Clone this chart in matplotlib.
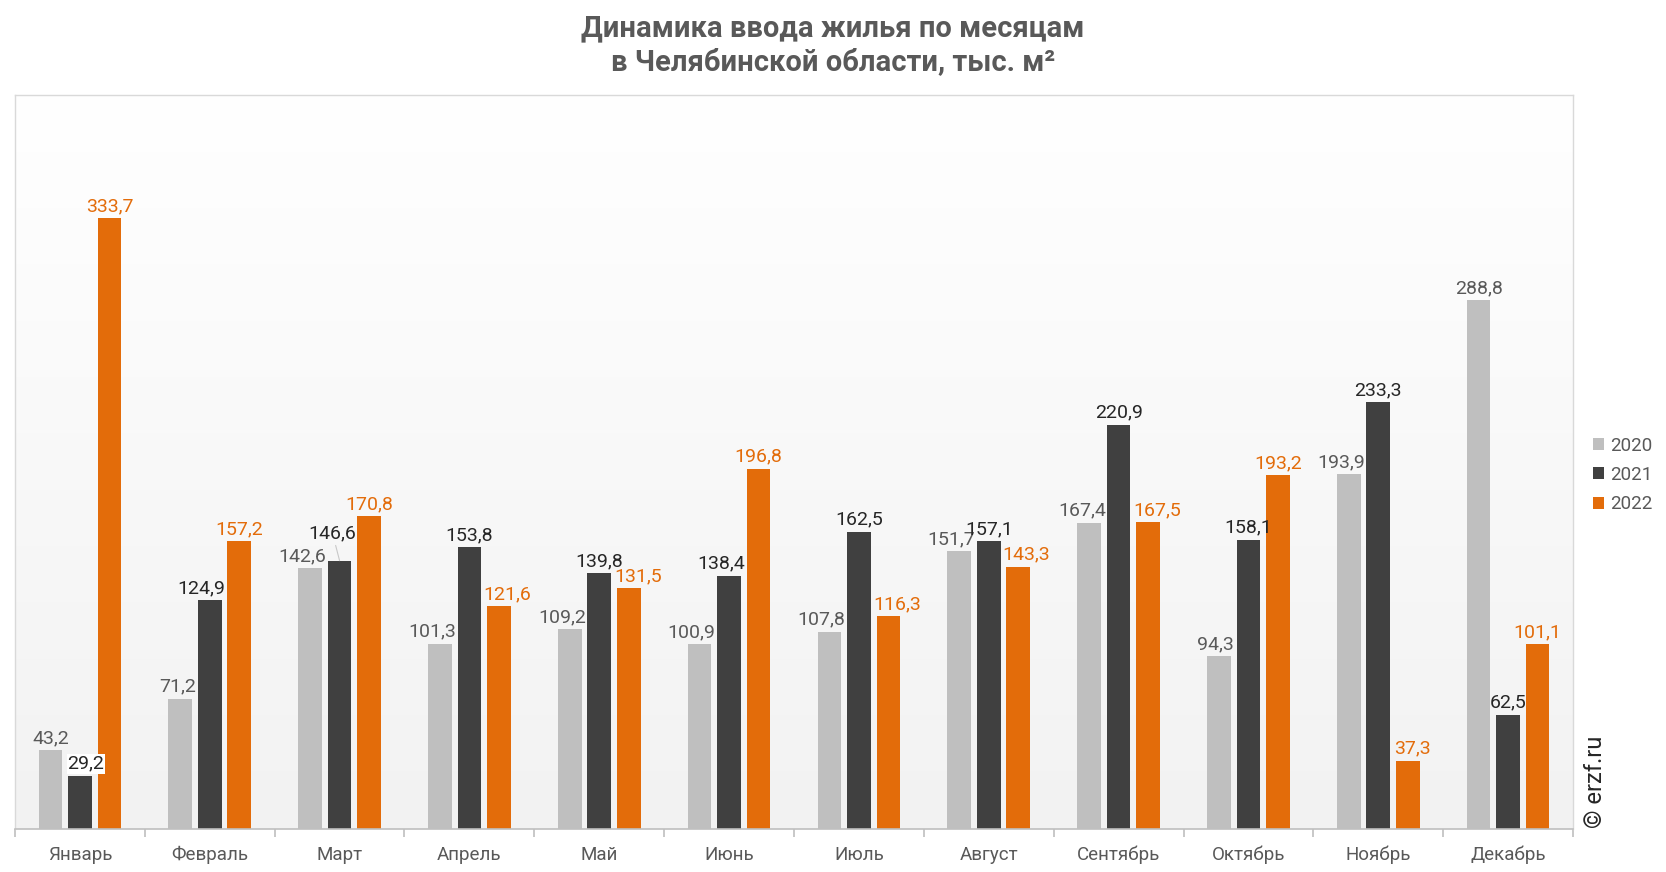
import matplotlib.pyplot as plt
import numpy as np
from matplotlib.colors import LinearSegmentedColormap
from matplotlib.patches import Patch

plt.rcParams["font.family"] = ["Roboto", "DejaVu Sans"]

MONTHS = ["Январь", "Февраль", "Март", "Апрель", "Май", "Июнь",
          "Июль", "Август", "Сентябрь", "Октябрь", "Ноябрь", "Декабрь"]
YEARS = ["2020", "2021", "2022"]
V2020 = [43.2, 71.2, 142.6, 101.3, 109.2, 100.9, 107.8, 151.7, 167.4, 94.3, 193.9, 288.8]
V2021 = [29.2, 124.9, 146.6, 153.8, 139.8, 138.4, 162.5, 157.1, 220.9, 158.1, 233.3, 62.5]
V2022 = [333.7, 157.2, 170.8, 121.6, 131.5, 196.8, 116.3, 143.3, 167.5, 193.2, 37.3, 101.1]

BAR_COLORS = ["#bfbfbf", "#404040", "#e36c0a"]
LABEL_COLORS = ["#595959", "#262626", "#e36c0a"]
TEXT_GRAY = "#595959"

# horizontal nudges of the value labels (pixels), as placed in the original
NUDGE = [
    [0, -3, -8, -8, -8, -8, -8, -8, -7, -4, -8, 0],
    [6, -8, 0, 0, 0, -8, 0, 0, 0, 0, 0, 0],
    [0, 0, 0, 8, 9, 0, 9, 8, 9, 0, 5, 0],
]

W, H = 1666, 872
fig = plt.figure(figsize=(W / 100, H / 100), dpi=100)
ax = fig.add_axes([15 / W, 1 - 829 / H, (1573 - 15) / W, (829 - 95) / H])

YMAX = 401
ax.set_xlim(-0.5, 11.5)
ax.set_ylim(0, YMAX)

# background gradient: white at top, light gray at bottom
grad = np.linspace(0, 1, 256).reshape(-1, 1)
bg_cmap = LinearSegmentedColormap.from_list("bg", ["#f2f2f2", "#ffffff"])
ax.imshow(grad, cmap=bg_cmap, aspect="auto", extent=(-0.5, 11.5, 0, YMAX),
          origin="lower", zorder=0)

x = np.arange(len(MONTHS))
step = 0.227
width = 0.182
series = [V2020, V2021, V2022]
for i, vals in enumerate(series):
    xs = x + (i - 1) * step
    ax.bar(xs, vals, width=width, color=BAR_COLORS[i], zorder=2)
    for j, (xx, v) in enumerate(zip(xs, vals)):
        txt = f"{v:.1f}".replace(".", ",")
        if i == 1 and j == 2:
            # label pulled up with a leader line
            ax.annotate(txt, xy=(xx, v), xytext=(-7, 18), textcoords="offset pixels",
                        ha="center", va="bottom", fontsize=14, color=LABEL_COLORS[i],
                        arrowprops=dict(arrowstyle="-", color="#c8c8c8", lw=0.8,
                                        shrinkA=0, shrinkB=0), zorder=3)
            continue
        bbox = None
        if i == 1 and j == 0:
            bbox = dict(boxstyle="square,pad=0.05", fc="white", ec="none")
        ax.annotate(txt, xy=(xx, v), xytext=(NUDGE[i][j], 3), textcoords="offset pixels",
                    ha="center", va="bottom", fontsize=14, color=LABEL_COLORS[i],
                    bbox=bbox, zorder=3)

# axes styling
for side in ["left", "top", "right"]:
    ax.spines[side].set_color("#d9d9d9")
    ax.spines[side].set_linewidth(1.0)
ax.spines["bottom"].set_color("#bfbfbf")
ax.spines["bottom"].set_linewidth(1.2)
ax.set_yticks([])
ax.set_xticks(x)
ax.set_xticklabels(MONTHS, fontsize=13.5, color=TEXT_GRAY)
ax.tick_params(axis="x", length=0, pad=12)
ax.set_xticks(np.arange(-0.5, 12, 1), minor=True)
ax.tick_params(axis="x", which="minor", length=6, color="#bfbfbf", width=1.2)

fig.text(0.5, 1 - 45 / H, "Динамика ввода жилья по месяцам\nв Челябинской области, тыс. м²",
         ha="center", va="center", fontsize=21, fontweight="bold", color=TEXT_GRAY,
         linespacing=1.25)

handles = [Patch(facecolor=c, edgecolor="none") for c in BAR_COLORS]
fig.legend(handles, YEARS, loc="center left", bbox_to_anchor=(1593 / W, 1 - 475 / H),
           frameon=False, fontsize=13.5, labelcolor=TEXT_GRAY, handlelength=0.6,
           handleheight=0.6, handletextpad=0.3, labelspacing=0.6,
           borderpad=0, borderaxespad=0)

fig.text(1596 / W, 1 - 828 / H, "© erzf.ru", rotation=90, ha="center", va="bottom",
         fontsize=17, color="#262626")

fig.savefig("out.png", dpi=100, facecolor="white")
